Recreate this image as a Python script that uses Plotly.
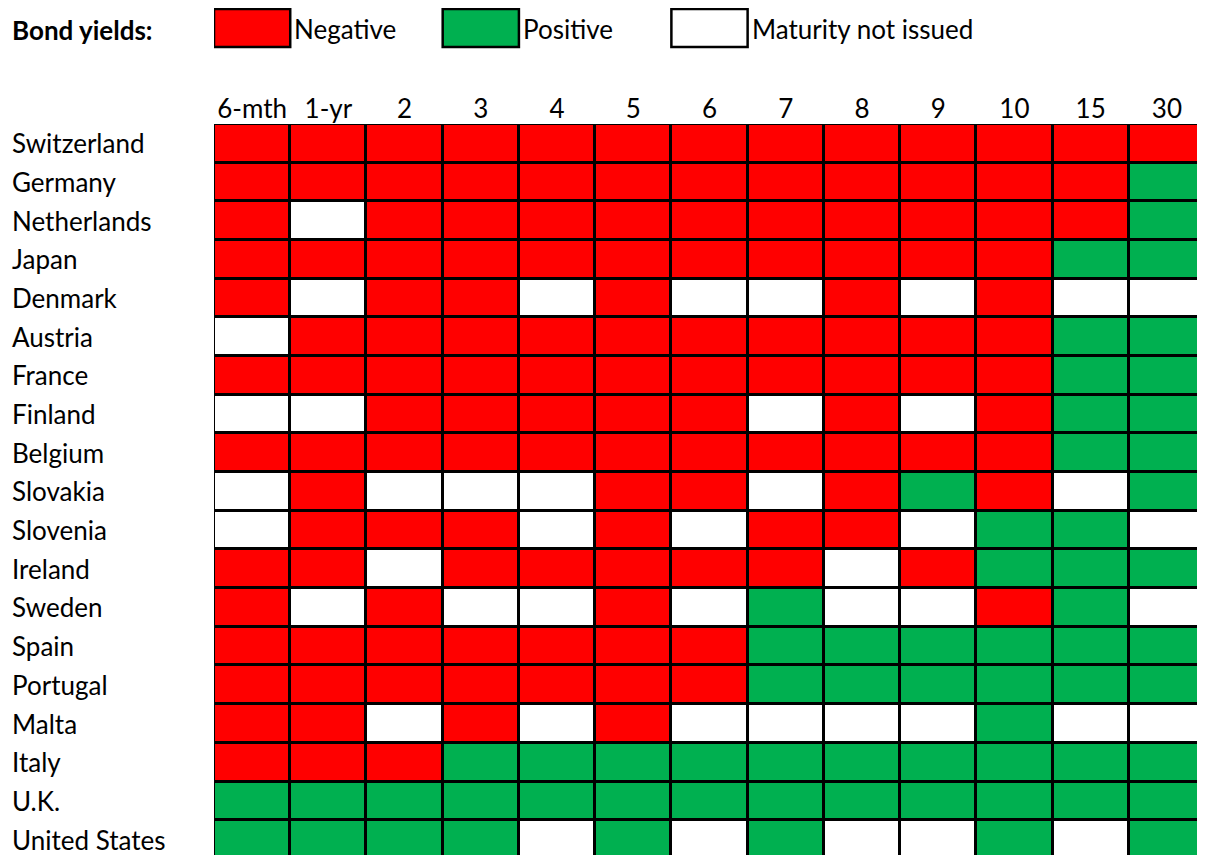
import plotly.graph_objects as go

countries = ["Switzerland", "Germany", "Netherlands", "Japan", "Denmark", "Austria",
             "France", "Finland", "Belgium", "Slovakia", "Slovenia", "Ireland",
             "Sweden", "Spain", "Portugal", "Malta", "Italy", "U.K.", "United States"]
maturities = ["6-mth", "1-yr", "2", "3", "4", "5", "6", "7", "8", "9", "10", "15", "30"]

# N = negative yield, P = positive yield, X = maturity not issued
switzerland   = list("NNNNNNNNNNNNN")
germany       = list("NNNNNNNNNNNNP")
netherlands   = list("NXNNNNNNNNNNP")
japan         = list("NNNNNNNNNNNPP")
denmark       = list("NXNNXNXXNXNXX")
austria       = list("XNNNNNNNNNNPP")
france        = list("NNNNNNNNNNNPP")
finland       = list("XXNNNNNXNXNPP")
belgium       = list("NNNNNNNNNNNPP")
slovakia      = list("XNXXXNNXNPNXP")
slovenia      = list("XNNNXNXNNXPPX")
ireland       = list("NNXNNNNNXNPPP")
sweden        = list("NXNXXNXPXXNPX")
spain         = list("NNNNNNNPPPPPP")
portugal      = list("NNNNNNNPPPPPP")
malta         = list("NNXNXNXXXXPXX")
italy         = list("NNNPPPPPPPPPP")
uk            = list("PPPPPPPPPPPPP")
united_states = list("PPPPXPXPXXPXP")

rows = [switzerland, germany, netherlands, japan, denmark, austria, france, finland,
        belgium, slovakia, slovenia, ireland, sweden, spain, portugal, malta, italy,
        uk, united_states]

legend_labels = ["Negative", "Positive", "Maturity not issued"]
legend_cols = ["6-mth", "3", "6"]
legend_codes = ["N", "P", "X"]

code_value = {"X": 0, "N": 1, "P": 2}
RED, GREEN, WHITE = "#FF0000", "#00B050", "#FFFFFF"
code_color = {"N": RED, "P": GREEN, "X": WHITE}

z = [[code_value[c] for c in r] for r in rows]

FONT = "Lato"
FS = 26

fig = go.Figure(go.Heatmap(
    z=z, x=maturities, y=countries,
    colorscale=[[0, WHITE], [0.5, RED], [1, GREEN]],
    zmin=0, zmax=2, showscale=False, xgap=3, ygap=3, hoverinfo="skip",
))

OFF = 8  # page body margin
W, H = 1205 - OFF, 855 - OFF
ml, mr, mt, mb = 214 - OFF, 0, 124 - OFF, 0
plot_w = W - ml - mr
plot_h = H - mt - mb

def px_to_paper_x(px):
    return (px - OFF - ml) / plot_w

def px_to_paper_y(py):
    return (H - mb - (py - OFF)) / plot_h

annotations = []
for c in countries:
    annotations.append(dict(
        x=px_to_paper_x(10), xref="paper", y=c, yref="y", text=c,
        showarrow=False, xanchor="left", yanchor="middle",
        font=dict(family=FONT, size=FS, color="black")))

annotations.append(dict(
    x=px_to_paper_x(10), xref="paper", y=px_to_paper_y(30), yref="paper",
    text="<b>Bond yields:</b>", showarrow=False, xanchor="left", yanchor="middle",
    font=dict(family=FONT, size=FS, color="black")))

shapes = []
for lab, col, code in zip(legend_labels, legend_cols, legend_codes):
    i = maturities.index(col)
    shapes.append(dict(
        type="rect", xref="x", yref="paper",
        x0=i - 0.5, x1=i + 0.5,
        y0=px_to_paper_y(47), y1=px_to_paper_y(9),
        fillcolor=code_color[code], line=dict(color="black", width=2.5)))
    annotations.append(dict(
        x=i + 0.5, xref="x", y=px_to_paper_y(29), yref="paper", text=lab,
        showarrow=False, xanchor="left", yanchor="middle", xshift=2,
        font=dict(family=FONT, size=FS, color="black")))

fig.update_layout(
    width=W, height=H,
    margin=dict(l=ml, r=mr, t=mt, b=mb, pad=0),
    paper_bgcolor="white", plot_bgcolor="black",
    xaxis=dict(side="top", showgrid=False, zeroline=False, ticks="",
               tickfont=dict(family=FONT, size=FS, color="black"),
               range=[-0.5, len(maturities) - 0.5], fixedrange=True),
    yaxis=dict(showgrid=False, zeroline=False, showticklabels=False, ticks="",
               range=[len(countries) - 1 + 0.4, -0.5], fixedrange=True),
    shapes=shapes, annotations=annotations, showlegend=False,
)

fig.write_html("out.html")
